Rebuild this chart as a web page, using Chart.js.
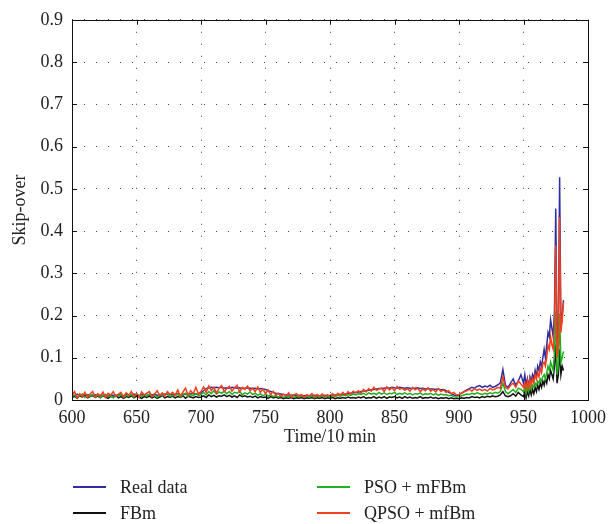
<!DOCTYPE html>
<html>
<head>
<meta charset="utf-8">
<script src="https://cdn.jsdelivr.net/npm/chart.js@4"></script>
<style>
  body { margin: 0; background: #fff; }
  #wrap { position: relative; width: 613px; height: 524px; }
  .item { position: absolute; display: flex; align-items: center; height: 24px;
          font: 18px 'Liberation Serif', 'Times New Roman', serif; color: #222; }
  .item span.line { display: inline-block; width: 33px; height: 2px; margin-right: 14px; }
</style>
</head>
<body>
<div id="wrap">
  <canvas id="chart" width="613" height="524"></canvas>
  <div class="item" style="left:73px; top:475px;"><span class="line" style="background:#2e2e9e"></span>Real data</div>
  <div class="item" style="left:73px; top:501px;"><span class="line" style="background:#111"></span>FBm</div>
  <div class="item" style="left:317px; top:475px;"><span class="line" style="background:#22b022"></span>PSO + mFBm</div>
  <div class="item" style="left:317px; top:501px;"><span class="line" style="background:#f0401e"></span>QPSO + mfBm</div>
</div>
<script>
/* ===== sampling: 600..948 every 2, then 950..981 every 1 ===== */
const times = [];
for (let t = 600; t <= 948; t += 2) times.push(t);
for (let t = 950; t <= 981; t++) times.push(t);

const xTicks = [600, 650, 700, 750, 800, 850, 900, 950, 1000];
const yTicks = [0, 0.1, 0.2, 0.3, 0.4, 0.5, 0.6, 0.7, 0.8, 0.9];

/* ===== series values ===== */
const realData = [
  .012,.008,.014,.010,.012,.009,.013,.011,.010,.012,
  .009,.012,.011,.013,.010,.012,.011,.009,.013,.012,
  .010,.013,.012,.011,.014,.012,.010,.013,.012,.011,
  .013,.012,.014,.011,.013,.012,.014,.013,.012,.014,
  .013,.015,.012,.014,.013,.015,.014,.016,.014,.015,
  .017,.022,.027,.029,.030,.029,.030,.029,.030,.028,
  .029,.028,.030,.029,.028,.029,.027,.028,.029,.028,
  .027,.028,.026,.027,.026,.025,.022,.020,.018,.016,
  .015,.014,.013,.012,.012,.011,.012,.010,.011,.010,
  .010,.011,.009,.010,.011,.010,.009,.010,.011,.010,
  .010,.011,.012,.011,.013,.012,.014,.015,.016,.017,
  .018,.019,.020,.021,.022,.023,.024,.025,.026,.027,
  .027,.028,.029,.028,.030,.029,.028,.030,.029,.028,
  .029,.028,.027,.028,.029,.027,.028,.026,.027,.026,
  .026,.025,.026,.024,.025,.022,.018,.015,.012,.010,
  .012,.016,.020,.024,.027,.030,.028,.032,.034,.030,
  .033,.031,.035,.030,.032,.036,.040,.072,.035,.030,
  .040,.050,.035,.045,.060,
  .040,.060,.035,.050,.030,.055,.045,.060,.050,.070,
  .055,.080,.070,.090,.080,.100,.120,.100,.130,.160,
  .150,.190,.170,.150,.210,.453,.130,.160,.527,.170,
  .200,.236
];

const fbm = [
  .006,.009,.004,.010,.007,.012,.005,.008,.011,.006,
  .009,.005,.010,.007,.004,.009,.006,.011,.005,.008,
  .004,.008,.006,.010,.005,.009,.007,.004,.008,.006,
  .009,.005,.008,.004,.007,.010,.005,.008,.006,.009,
  .005,.008,.006,.010,.004,.009,.007,.005,.008,.006,
  .007,.010,.006,.012,.008,.011,.007,.010,.009,.012,
  .008,.011,.007,.010,.006,.012,.008,.010,.007,.009,
  .006,.009,.005,.008,.006,.007,.004,.008,.005,.007,
  .004,.006,.003,.005,.004,.006,.003,.005,.004,.006,
  .003,.005,.004,.006,.003,.005,.004,.006,.003,.005,
  .004,.006,.003,.005,.004,.006,.004,.007,.005,.006,
  .004,.007,.005,.008,.004,.006,.005,.008,.004,.007,
  .005,.008,.004,.007,.006,.008,.005,.007,.004,.008,
  .005,.007,.004,.006,.005,.008,.004,.006,.005,.007,
  .004,.006,.003,.005,.004,.006,.003,.005,.003,.004,
  .003,.005,.004,.006,.005,.008,.006,.007,.005,.008,
  .006,.009,.007,.010,.008,.009,.012,.020,.010,.008,
  .010,.015,.009,.018,.012,
  .008,.020,.005,.020,.010,.025,.012,.025,.015,.030,
  .020,.035,.025,.040,.030,.045,.035,.050,.040,.060,
  .050,.070,.060,.050,.080,.130,.040,.060,.120,.060,
  .080,.070
];

const psoMfbm = [
  .008,.012,.005,.010,.014,.006,.011,.009,.013,.007,
  .012,.006,.010,.013,.008,.011,.005,.012,.009,.014,
  .006,.011,.009,.013,.007,.015,.010,.008,.012,.009,
  .014,.008,.011,.006,.013,.009,.012,.016,.008,.011,
  .010,.014,.007,.012,.016,.009,.013,.010,.015,.011,
  .013,.018,.012,.020,.015,.022,.014,.019,.016,.021,
  .015,.020,.013,.018,.016,.021,.012,.017,.014,.019,
  .013,.016,.011,.015,.010,.014,.009,.012,.008,.011,
  .007,.010,.006,.009,.007,.011,.006,.009,.008,.010,
  .006,.009,.007,.010,.005,.009,.007,.011,.006,.009,
  .007,.010,.008,.011,.009,.012,.010,.013,.011,.014,
  .012,.015,.013,.016,.012,.017,.014,.016,.013,.018,
  .014,.017,.013,.016,.015,.018,.013,.016,.014,.017,
  .013,.016,.012,.015,.014,.017,.012,.015,.013,.016,
  .012,.015,.011,.014,.012,.013,.010,.011,.008,.007,
  .008,.010,.012,.014,.013,.016,.014,.017,.015,.013,
  .016,.014,.017,.015,.018,.016,.020,.040,.020,.015,
  .020,.025,.018,.028,.025,
  .020,.030,.015,.030,.020,.035,.025,.035,.030,.040,
  .035,.045,.040,.050,.045,.055,.060,.050,.065,.080,
  .070,.090,.080,.070,.110,.210,.060,.080,.205,.090,
  .100,.115
];

const qpsoMfbm = [
  .010,.020,.005,.015,.008,.018,.006,.014,.020,.007,
  .015,.009,.019,.006,.016,.012,.020,.008,.014,.018,
  .007,.017,.011,.020,.009,.015,.006,.019,.012,.016,
  .020,.008,.014,.022,.010,.017,.009,.020,.013,.018,
  .011,.024,.009,.019,.028,.012,.022,.015,.030,.014,
  .020,.031,.018,.033,.022,.030,.016,.028,.034,.020,
  .027,.032,.021,.029,.035,.019,.030,.025,.033,.022,
  .028,.020,.031,.018,.026,.015,.024,.013,.020,.012,
  .016,.008,.014,.010,.017,.007,.012,.015,.009,.013,
  .006,.012,.010,.015,.007,.013,.009,.014,.008,.012,
  .010,.015,.008,.016,.012,.018,.011,.020,.014,.021,
  .017,.022,.016,.025,.019,.027,.021,.030,.023,.026,
  .028,.020,.031,.024,.029,.022,.032,.025,.028,.023,
  .027,.021,.030,.024,.028,.020,.026,.022,.029,.021,
  .025,.019,.027,.020,.024,.018,.022,.015,.018,.012,
  .013,.016,.020,.022,.025,.021,.027,.023,.026,.022,
  .025,.021,.028,.024,.026,.030,.028,.055,.030,.026,
  .035,.040,.030,.045,.038,
  .030,.040,.025,.045,.030,.050,.035,.050,.040,.060,
  .050,.065,.055,.075,.065,.085,.090,.080,.100,.130,
  .120,.150,.130,.120,.180,.366,.100,.130,.433,.160,
  .190,.232
];

const seriesNames = ["Real data", "FBm", "PSO + mFBm", "QPSO + mfBm"];
const seriesColors = ["#2e2e9e", "#111111", "#22b022", "#f0401e"];
const seriesValues = [realData, fbm, psoMfbm, qpsoMfbm];
const drawOrder = [4, 3, 2, 1]; // red on top

const FONT = "'Liberation Serif', 'Times New Roman', serif";
const INK = "#222";

/* ===== frame + inward ticks ===== */
const framePlugin = {
  id: "frame",
  afterDraw(chart) {
    const { ctx, chartArea: a, scales } = chart;
    ctx.save();
    ctx.strokeStyle = "#111";
    ctx.lineWidth = 1;
    ctx.setLineDash([]);
    ctx.beginPath();
    xTicks.forEach(v => {
      const px = Math.round(scales.x.getPixelForValue(v)) + 0.5;
      ctx.moveTo(px, a.bottom); ctx.lineTo(px, a.bottom - 5);
      ctx.moveTo(px, a.top); ctx.lineTo(px, a.top + 5);
    });
    yTicks.forEach(v => {
      const py = Math.round(scales.y.getPixelForValue(v)) + 0.5;
      ctx.moveTo(a.left, py); ctx.lineTo(a.left + 5, py);
      ctx.moveTo(a.right, py); ctx.lineTo(a.right - 5, py);
    });
    ctx.stroke();
    ctx.strokeRect(Math.round(a.left) + 0.5, Math.round(a.top) + 0.5,
                   Math.round(a.right - a.left), Math.round(a.bottom - a.top));
    ctx.restore();
  }
};

new Chart(document.getElementById("chart"), {
  type: "line",
  data: {
    datasets: seriesValues.map((vals, i) => ({
      label: seriesNames[i],
      data: vals.map((v, k) => ({ x: times[k], y: v })),
      borderColor: seriesColors[i],
      borderWidth: 1.5,
      pointRadius: 0,
      tension: 0,
      fill: false,
      order: drawOrder[i]
    }))
  },
  options: {
    responsive: false,
    animation: false,
    events: [],
    layout: { padding: { left: 0, right: 20, top: 19, bottom: 76 } },
    plugins: { legend: { display: false }, tooltip: { enabled: false } },
    scales: {
      x: {
        type: "linear",
        min: 600,
        max: 1000,
        afterFit(scale) { scale.height = 48; },
        afterBuildTicks(scale) { scale.ticks = xTicks.map(v => ({ value: v })); },
        ticks: {
          color: INK,
          padding: 7,
          maxRotation: 0,
          font: { family: FONT, size: 18 },
          callback: v => String(v)
        },
        grid: { color: "#444", lineWidth: 1, drawTicks: false },
        border: { display: false, dash: [1, 11] },
        title: {
          display: true,
          text: "Time/10\u2009min",
          color: INK,
          font: { family: FONT, size: 18 },
          padding: { top: 0, bottom: 0 }
        }
      },
      y: {
        min: 0,
        max: 0.9,
        afterFit(scale) { scale.width = 72; },
        afterBuildTicks(scale) { scale.ticks = yTicks.map(v => ({ value: v })); },
        ticks: {
          color: INK,
          padding: 9,
          font: { family: FONT, size: 18 },
          callback: v => (v === 0 ? "0" : v.toFixed(1))
        },
        grid: { color: "#444", lineWidth: 1, drawTicks: false },
        border: { display: false, dash: [1, 11] },
        title: {
          display: true,
          text: "Skip-over",
          color: INK,
          font: { family: FONT, size: 18 },
          padding: { top: 9, bottom: 0 }
        }
      }
    }
  },
  plugins: [framePlugin]
});
</script>
</body>
</html>
